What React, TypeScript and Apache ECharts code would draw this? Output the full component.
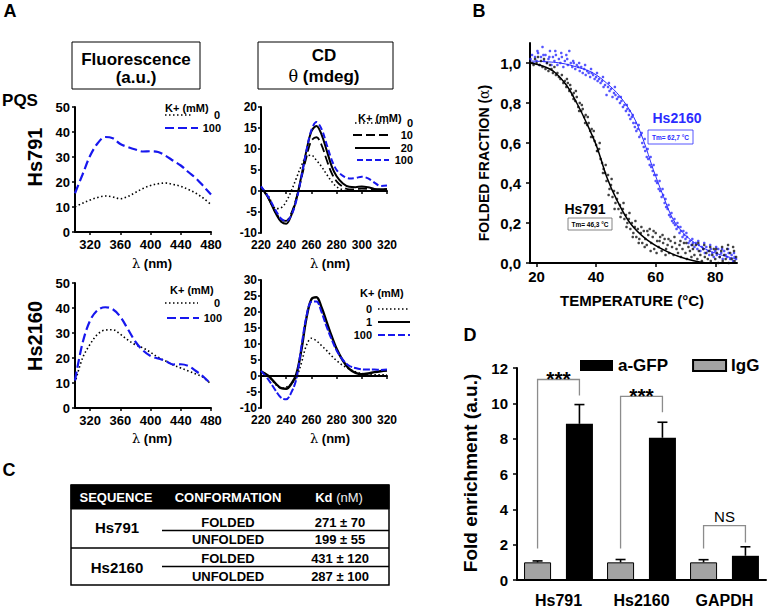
import React, { useEffect, useRef } from 'react';
import * as echarts from 'echarts';

const FONT = 'Arial, "Liberation Sans", Helvetica, sans-serif';
const BLUE_A = '#1717ee';
const BLUE_B = '#2b2bff';

// ---------- Panel A : fluorescence ----------
const fluorWavelength = [300, 310, 320, 330, 340, 350, 360, 370, 380, 390, 400, 410, 420, 430, 440, 450, 460, 470, 480];
const fluorTicks = [320, 360, 400, 440, 480];
const fluorHs791K0 = [10.1, 11.5, 12.8, 13.8, 14.4, 14.0, 13.3, 14.2, 15.8, 17.4, 18.6, 19.3, 19.6, 19.0, 18.3, 17.0, 15.5, 13.5, 11.0];
const fluorHs791K100 = [15.5, 23.0, 30.5, 35.5, 38.0, 37.5, 35.2, 34.0, 33.0, 32.2, 32.3, 32.0, 30.5, 28.5, 26.6, 24.0, 21.5, 18.3, 15.0];
const fluorHs2160K0 = [10.0, 20.0, 25.5, 29.5, 31.2, 31.3, 29.5, 27.2, 25.3, 24.0, 22.3, 20.3, 18.8, 17.2, 16.0, 14.8, 13.6, 12.2, 9.5];
const fluorHs2160K100 = [11.0, 26.0, 35.0, 39.2, 40.3, 39.5, 36.5, 31.5, 26.5, 23.0, 20.8, 19.8, 18.8, 17.4, 17.5, 16.8, 14.8, 12.5, 9.5];

// ---------- Panel A : circular dichroism ----------
const cdWavelength = [220, 226, 232, 236, 240, 244, 248, 252, 256, 260, 264, 268, 272, 276, 280, 285, 290, 295, 300, 305, 310, 315, 320];
const cdHs791K0 = [1.0, -1.3, -4.2, -4.0, -2.5, 0.0, 3.0, 6.0, 8.2, 8.5, 7.3, 5.8, 4.0, 2.3, 1.0, 0.3, 0.0, 0.0, 0.0, 0.0, 0.0, 0.2, 0.3];
const cdHs791K10 = [1.0, -1.8, -5.3, -6.8, -7.1, -5.3, -1.8, 3.0, 8.0, 12.0, 12.8, 11.0, 7.5, 4.3, 2.3, 1.0, 0.4, 0.4, 0.6, 0.5, 0.3, 0.3, 0.4];
const cdHs791K20 = [1.0, -1.8, -5.5, -7.3, -7.8, -5.8, -2.0, 3.5, 9.5, 14.2, 15.5, 13.5, 9.8, 6.0, 3.5, 1.8, 1.0, 0.9, 1.1, 0.9, 0.5, 0.4, 0.5];
const cdHs791K100 = [1.1, -1.5, -4.8, -6.6, -7.2, -5.8, -2.3, 3.2, 9.5, 14.5, 16.4, 14.8, 11.2, 7.5, 5.0, 3.6, 3.0, 3.1, 3.4, 3.0, 2.0, 1.2, 1.3];
const cdHs2160K0 = [1.5, 0.0, -2.8, -3.8, -3.5, -2.5, -0.5, 4.0, 9.5, 11.8, 11.0, 9.5, 8.0, 6.3, 4.8, 3.3, 2.2, 1.3, 0.8, 0.5, 0.4, 0.4, 0.4];
const cdHs2160K1 = [1.5, 0.0, -2.5, -3.8, -4.0, -2.5, 0.5, 8.0, 18.0, 24.0, 24.6, 21.5, 17.0, 12.5, 8.5, 4.8, 2.2, 1.0, 0.6, 0.8, 1.2, 1.5, 1.7];
const cdHs2160K100 = [1.6, -1.2, -4.8, -6.8, -7.3, -5.2, -1.0, 9.0, 18.5, 23.2, 23.3, 20.0, 15.5, 11.5, 8.0, 5.0, 3.2, 2.5, 2.1, 2.0, 2.0, 1.9, 2.0];

// ---------- Panel B : melting ----------
const meltTicks = [20, 40, 60, 80];
const fracTicks = [0, 0.2, 0.4, 0.6, 0.8, 1.0];
const hs791FitT = [18, 22, 26, 30, 33.5, 36.8, 40.2, 43.5, 46.9, 51.4, 57, 63.7, 70.4, 78, 87.3];
const hs791FitA = [1.0, 0.985, 0.955, 0.89, 0.8, 0.7, 0.583, 0.433, 0.317, 0.2, 0.117, 0.058, 0.02, 0.0, 0.0];
const hs2160FitT = [18, 27.9, 34.6, 39, 43.5, 48, 52.5, 55.8, 59.2, 62.6, 65.9, 70.4, 76, 81.6, 87.2];
const hs2160FitA = [1.01, 1.0, 0.975, 0.95, 0.9, 0.833, 0.733, 0.617, 0.467, 0.333, 0.217, 0.133, 0.075, 0.042, 0.02];
const hs791Points = [
  [18.5, 1.0], [19, 0.99], [19.5, 1.02], [20, 1.0], [20.5, 1.03], [21, 0.99], [21.5, 1.01], [22, 0.98], [22.5, 1.02], [23, 0.97],
  [23.5, 1.0], [24, 0.96], [24.5, 0.99], [25, 0.97], [25.5, 0.95], [26, 0.98], [26.5, 0.94], [27, 0.95], [27.5, 0.93], [28, 0.92],
  [28.5, 0.94], [29, 0.9], [29.5, 0.91], [30, 0.88], [30.5, 0.9], [31, 0.86], [31.5, 0.87], [32, 0.84], [32.5, 0.85], [33, 0.81],
  [33.5, 0.83], [34, 0.78], [34.5, 0.8], [35, 0.76], [35.5, 0.77], [36, 0.73], [36.5, 0.74], [37, 0.69], [37.5, 0.7], [38, 0.66],
  [38.5, 0.67], [39, 0.63], [39.5, 0.61], [40, 0.59], [40.5, 0.56], [41, 0.57], [41.5, 0.52], [42, 0.5], [42.5, 0.47], [43, 0.45],
  [43.5, 0.41], [44, 0.44], [44.5, 0.37], [45, 0.39], [45.5, 0.33], [46, 0.36], [46.5, 0.3], [47, 0.32], [47.5, 0.27], [48, 0.29],
  [48.5, 0.25], [49, 0.27], [49.5, 0.22], [50, 0.24], [50.5, 0.2], [51, 0.22], [51.5, 0.17], [52, 0.2], [52.5, 0.15], [53, 0.18],
  [53.5, 0.13], [54, 0.17], [54.5, 0.12], [55, 0.15], [55.5, 0.1], [56, 0.16], [56.5, 0.12], [57, 0.09], [57.5, 0.14], [58, 0.17],
  [58.5, 0.1], [59, 0.13], [59.5, 0.07], [60, 0.15], [60.5, 0.11], [61, 0.08], [61.5, 0.13], [62, 0.06], [62.5, 0.1], [63, 0.12],
  [63.5, 0.07], [64, 0.09], [64.5, 0.05], [65, 0.11], [65.5, 0.08], [66, 0.04], [66.5, 0.1], [67, 0.07], [67.5, 0.05], [68, 0.09],
  [68.5, 0.03], [69, 0.07], [69.5, 0.1], [70, 0.05], [70.5, 0.02], [71, 0.08], [71.5, 0.06], [72, 0.03], [72.5, 0.07], [73, 0.04],
  [73.5, 0.09], [74, 0.02], [74.5, 0.06], [75, 0.04], [75.5, 0.01], [76, 0.07], [76.5, 0.03], [77, 0.05], [77.5, 0.02], [78, 0.06],
  [78.5, 0.01], [79, 0.04], [79.5, 0.07], [80, 0.02], [80.5, 0.05], [81, 0.0], [81.5, 0.03], [82, 0.06], [82.5, 0.01], [83, 0.04],
  [83.5, 0.02], [84, 0.07], [84.5, 0.0], [85, 0.05], [85.5, 0.02], [86, 0.08], [86.5, 0.01], [87, 0.03],
  [30.2, 0.92], [31.3, 0.89], [32.4, 0.82], [33.2, 0.86], [34.3, 0.76], [35.2, 0.79], [36.3, 0.7], [37.2, 0.73], [38.3, 0.63], [39.2, 0.66],
  [40.3, 0.56], [41.2, 0.6], [42.3, 0.45], [43.2, 0.49], [44.2, 0.34], [45.2, 0.42], [46.2, 0.27], [47.2, 0.35], [48.2, 0.23], [49.2, 0.3],
  [50.2, 0.18], [51.2, 0.25], [52.3, 0.13], [53.2, 0.21], [54.3, 0.1], [55.2, 0.18], [56.3, 0.08], [57.2, 0.16], [58.3, 0.06], [59.3, 0.16],
  [60.3, 0.05], [61.3, 0.11], [62.3, 0.14], [63.3, 0.04], [64.3, 0.12], [66.3, 0.13], [68.3, 0.11], [70.3, 0.1], [72.3, 0.09], [74.3, 0.1],
  [76.3, 0.09], [78.3, 0.08], [80.3, 0.07], [82.3, 0.08], [84.3, 0.09], [86.3, 0.06],
];
const hs2160Points = [
  [18, 1.02], [18.5, 1.04], [19, 1.0], [19.5, 1.03], [20, 1.01], [20.5, 1.05], [21, 0.99], [21.5, 1.03], [22, 1.08], [22.5, 1.01],
  [23, 1.04], [23.5, 1.0], [24, 1.02], [24.5, 1.06], [25, 0.99], [25.5, 1.03], [26, 1.01], [26.5, 1.04], [27, 0.99], [27.5, 1.02],
  [28, 1.0], [28.5, 1.03], [29, 0.98], [29.5, 1.01], [30, 1.04], [30.5, 0.99], [31, 1.06], [31.5, 1.0], [32, 0.98], [32.5, 1.0],
  [33, 0.97], [33.5, 0.99], [34, 0.98], [34.5, 0.96], [35, 0.98], [35.5, 0.95], [36, 0.97], [36.5, 0.94], [37, 0.96], [37.5, 0.95],
  [38, 0.93], [38.5, 0.95], [39, 0.94], [39.5, 0.92], [40, 0.93], [40.5, 0.91], [41, 0.92], [41.5, 0.9], [42, 0.91], [42.5, 0.88],
  [43, 0.89], [43.5, 0.84], [44, 0.88], [44.5, 0.86], [45, 0.87], [45.5, 0.83], [46, 0.85], [46.5, 0.84], [47, 0.82], [47.5, 0.83],
  [48, 0.8], [48.5, 0.81], [49, 0.78], [49.5, 0.79], [50, 0.76], [50.5, 0.77], [51, 0.74], [51.5, 0.72], [52, 0.73], [52.5, 0.7],
  [53, 0.68], [53.5, 0.66], [54, 0.67], [54.5, 0.63], [55, 0.64], [55.5, 0.6], [56, 0.58], [56.5, 0.56], [57, 0.53], [57.5, 0.52],
  [58, 0.49], [58.5, 0.48], [59, 0.46], [59.5, 0.44], [60, 0.41], [60.5, 0.4], [61, 0.37], [61.5, 0.36], [62, 0.33], [62.5, 0.34],
  [63, 0.3], [63.5, 0.28], [64, 0.27], [64.5, 0.24], [65, 0.23], [65.5, 0.21], [66, 0.2], [66.5, 0.19], [67, 0.17], [67.5, 0.18],
  [68, 0.15], [68.5, 0.16], [69, 0.13], [69.5, 0.14], [70, 0.12], [70.5, 0.13], [71, 0.1], [71.5, 0.11], [72, 0.09], [72.5, 0.1],
  [73, 0.08], [73.5, 0.1], [74, 0.07], [74.5, 0.09], [75, 0.06], [75.5, 0.08], [76, 0.07], [76.5, 0.05], [77, 0.08], [77.5, 0.06],
  [78, 0.04], [78.5, 0.07], [79, 0.05], [79.5, 0.03], [80, 0.06], [80.5, 0.04], [81, 0.07], [81.5, 0.03], [82, 0.05], [82.5, 0.02],
  [83, 0.06], [83.5, 0.04], [84, 0.03], [84.5, 0.05], [85, 0.02], [85.5, 0.04], [86, 0.01], [86.5, 0.03], [87, 0.02],
  [20.3, 1.06], [22.3, 1.04], [24.3, 1.03], [26.3, 1.06], [28.3, 1.05], [30.3, 1.02], [32.3, 1.01], [34.3, 1.0], [36.3, 0.99], [38.3, 0.97],
  [40.3, 0.95], [42.3, 0.93], [44.3, 0.9], [46.3, 0.88], [48.3, 0.83], [50.3, 0.79], [51.3, 0.76], [52.3, 0.74], [53.3, 0.7], [54.3, 0.69],
  [55.3, 0.65], [56.3, 0.62], [57.3, 0.57], [58.3, 0.53], [59.3, 0.49], [60.3, 0.44], [61.3, 0.41], [62.3, 0.37], [63.3, 0.32], [64.3, 0.29],
  [65.3, 0.25], [66.3, 0.22], [67.3, 0.2], [68.3, 0.18], [69.3, 0.16], [70.3, 0.15], [72.3, 0.12], [74.3, 0.11], [76.3, 0.1], [78.3, 0.09],
  [80.3, 0.08], [82.3, 0.07], [84.3, 0.07], [86.3, 0.05],
];

// ---------- Panel C : table ----------
const tableSequences = ['Hs791', 'Hs2160'];
const tableConformations = ['FOLDED', 'UNFOLDED', 'FOLDED', 'UNFOLDED'];
const tableKd = ['271 ± 70', '199 ± 55', '431 ± 120', '287 ± 100'];

// ---------- Panel D : ChIP ----------
const dCategories = ['Hs791', 'Hs2160', 'GAPDH'];
const igG = [1.0, 1.0, 1.0];
const igGErr = [0.08, 0.16, 0.15];
const aGFP = [8.84, 8.05, 1.37];
const aGFPErr = [1.09, 0.88, 0.51];
const bracketLeft = [1.78, 1.78, 1.78];
const bracketRight = [10.45, 9.49, 2.12];
const bracketTop = [11.35, 10.39, 3.08];
const bracketLabels = ['***', '***', 'NS'];

const zip = (xs: number[], ys: number[]) => xs.map((x, i) => [x, ys[i]]);

const axisLineStyle = { show: true, lineStyle: { color: '#000', width: 2 } };
const lbl = (size: number, margin: number, extra: any = {}) => ({
  color: '#000', fontWeight: 'bold', fontSize: size, fontFamily: FONT, margin, ...extra,
});

function valueAxis(grid: number, min: number, max: number, interval: number | null, labelSize: number, margin: number, extra: any = {}) {
  const ax: any = {
    type: 'value', gridIndex: grid, min, max,
    axisLine: axisLineStyle,
    axisTick: { show: true, length: 3, lineStyle: { color: '#000', width: 1.5 }, ...(extra.tick || {}) },
    axisLabel: lbl(labelSize, margin, extra.label || {}),
    splitLine: { show: false },
  };
  if (interval !== null) ax.interval = interval;
  return ax;
}

const lineS = (xi: number, data: number[][], color: string, width: number, type: any, extra: any = {}) => ({
  type: 'line', xAxisIndex: xi, yAxisIndex: xi, data, symbol: 'none', smooth: 0.35,
  lineStyle: { color, width, type, cap: 'butt' }, z: extra.z ?? 3, ...extra,
});

const zeroLine = {
  silent: true, symbol: 'none', label: { show: false },
  lineStyle: { color: '#000', width: 1.5, type: 'solid' }, data: [{ yAxis: 0 }],
};

function txt(x: number, y: number, text: string, size: number, o: any = {}) {
  return {
    type: 'text', x, y, rotation: o.rotation ?? 0, z: 10,
    style: {
      text, fontSize: size, fontWeight: o.weight ?? 'bold', fontFamily: FONT,
      fill: o.fill ?? '#000', textAlign: o.align ?? 'center', textVerticalAlign: 'middle',
      rich: o.rich,
    },
  };
}
function hline(x1: number, x2: number, y: number, color: string, width: number, dash: any = null) {
  return { type: 'line', z: 10, shape: { x1, y1: y, x2, y2: y }, style: { stroke: color, lineWidth: width, lineDash: dash } };
}

function barOffset(api: any) {
  const bw = api.size([1, 0])[0];
  const barW = (bw * 0.83) / 2.55;
  return (barW * 1.55) / 2;
}

export default function App() {
  const ref = useRef<HTMLDivElement>(null);
  useEffect(() => {
    if (!ref.current) return;
    const chart = echarts.init(ref.current, null, { renderer: 'svg' });
    const greek = { fontWeight: 'normal', fontFamily: '"DejaVu Serif", serif' };

    const graphic: any[] = [
      // panel letters
      txt(10, 11, 'A', 18), txt(479, 11, 'B', 18), txt(9, 470, 'C', 18), txt(470, 335, 'D', 18),
      // panel A headers
      { type: 'rect', z: 10, shape: { x: 72, y: 42, width: 128, height: 47 }, style: { fill: 'none', stroke: '#000', lineWidth: 1 } },
      txt(136, 59, 'Fluorescence', 17), txt(136, 77, '(a.u.)', 17),
      { type: 'rect', z: 10, shape: { x: 258, y: 42, width: 135, height: 47 }, style: { fill: 'none', stroke: '#000', lineWidth: 1 } },
      txt(324, 55, 'CD', 17),
      txt(324, 76, '{g|θ} (mdeg)', 17, { rich: { g: { ...greek, fontSize: 16 } } }),
      txt(20, 100, 'PQS', 17),
      txt(35, 157, 'Hs791', 20, { rotation: Math.PI / 2 }),
      txt(35, 336, 'Hs2160', 20, { rotation: Math.PI / 2 }),
      // axis titles panel A
      txt(152, 263, '{g|λ} (nm)', 13, { rich: { g: { ...greek, fontSize: 13 } } }),
      txt(330, 263, '{g|λ} (nm)', 13, { rich: { g: { ...greek, fontSize: 13 } } }),
      txt(152, 438, '{g|λ} (nm)', 13, { rich: { g: { ...greek, fontSize: 13 } } }),
      txt(330, 438, '{g|λ} (nm)', 13, { rich: { g: { ...greek, fontSize: 13 } } }),
      // legend top-left
      txt(165, 108, 'K+ (mM)', 11, { align: 'left' }),
      hline(165, 193, 115, '#000', 1.6, [1.5, 2.5]), txt(220, 115, '0', 11, { align: 'right' }),
      hline(165, 198, 128, BLUE_A, 2.2, [9, 4]), txt(221, 128, '100', 11, { align: 'right' }),
      // legend bottom-left
      txt(170, 290, 'K+ (mM)', 11, { align: 'left' }),
      hline(165, 198, 303, '#000', 1.6, [1.5, 2.5]), txt(220, 303, '0', 11, { align: 'right' }),
      hline(167, 199, 318, BLUE_A, 2.2, [9, 4]), txt(222, 318, '100', 11, { align: 'right' }),
      // legend top-right
      txt(358, 118, 'K+ (mM)', 11, { align: 'left' }),
      hline(355, 390, 123, '#000', 1.6, [1.5, 2.5]), txt(413, 123, '0', 11, { align: 'right' }),
      hline(353, 392, 135, '#000', 2, [9, 4]), txt(413, 135, '10', 11, { align: 'right' }),
      hline(355, 390, 148, '#000', 2), txt(413, 148, '20', 11, { align: 'right' }),
      hline(357, 389, 160, BLUE_A, 2, [6, 3]), txt(413, 160, '100', 11, { align: 'right' }),
      // legend bottom-right
      txt(360, 293, 'K+ (mM)', 11, { align: 'left' }),
      txt(372, 309, '0', 11, { align: 'right' }), hline(378, 410, 309, '#000', 1.6, [1.5, 2.5]),
      txt(372, 322, '1', 11, { align: 'right' }), hline(378, 410, 322, '#000', 2),
      txt(372, 335, '100', 11, { align: 'right' }), hline(378, 410, 335, BLUE_A, 2, [7, 3]),
      // panel B annotations
      txt(632, 300, 'TEMPERATURE (°C)', 15),
      txt(484, 163, 'FOLDED FRACTION ({g|α})', 14, { rotation: Math.PI / 2, rich: { g: { ...greek, fontSize: 14 } } }),
      txt(677, 118, 'Hs2160', 14, { fill: BLUE_B }),
      { type: 'rect', z: 10, shape: { x: 648, y: 130, width: 45, height: 14 }, style: { fill: '#fff', stroke: BLUE_B, lineWidth: 0.8 } },
      txt(670.5, 137, 'Tm= 62,7 °C', 6.5, { fill: BLUE_B }),
      txt(585, 209, 'Hs791', 14),
      { type: 'rect', z: 10, shape: { x: 568, y: 218, width: 44, height: 12 }, style: { fill: '#fff', stroke: '#666', lineWidth: 0.8 } },
      txt(590, 224, 'Tm= 46,3 °C', 6.5),
      // panel D title
      txt(470, 473, 'Fold enrichment (a.u.)', 19, { rotation: Math.PI / 2 }),
    ];

    // Table (panel C)
    const tl = 71, tr = 389;
    graphic.push(
      { type: 'rect', z: 9, shape: { x: tl, y: 485, width: tr - tl, height: 24 }, style: { fill: '#000', stroke: '#000', lineWidth: 1 } },
      { type: 'rect', z: 10, shape: { x: tl, y: 485, width: tr - tl, height: 100 }, style: { fill: 'none', stroke: '#000', lineWidth: 1.5 } },
      hline(tl, tr, 548, '#000', 1.5),
      hline(162, tr, 530.5, '#000', 1.5),
      hline(162, tr, 566.5, '#000', 1.5),
      txt(116, 497, 'SEQUENCE', 13, { fill: '#fff' }),
      txt(228, 497, 'CONFORMATION', 13, { fill: '#fff' }),
      txt(339, 497, 'Kd {n|(nM)}', 13, { fill: '#fff', rich: { n: { fontWeight: 'normal', fontSize: 13, fill: '#eee', fontFamily: FONT } } }),
    );
    const seqY = [527, 567];
    tableSequences.forEach((s, i) => graphic.push(txt(117, seqY[i], s, 15)));
    const rowY = [522.5, 539, 558.5, 576];
    tableConformations.forEach((c, i) => graphic.push(txt(228, rowY[i], c, 13)));
    tableKd.forEach((k, i) => graphic.push(txt(340, rowY[i], k, 13)));

    const option: any = {
      animation: false,
      textStyle: { fontFamily: FONT },
      grid: [
        { left: 75, top: 107, width: 136, height: 125 },
        { left: 261, top: 107, width: 126, height: 126 },
        { left: 75, top: 283, width: 136, height: 125 },
        { left: 261, top: 280, width: 126, height: 128 },
        { left: 530, top: 43, width: 207, height: 220 },
        { left: 517, top: 368, width: 249, height: 213.7 },
      ],
      xAxis: [
        valueAxis(0, 300, 480, null, 13, 6, { label: { customValues: fluorTicks }, tick: { customValues: fluorTicks } }),
        valueAxis(1, 220, 320, 20, 12, 6),
        valueAxis(2, 300, 480, null, 13, 6, { label: { customValues: fluorTicks }, tick: { customValues: fluorTicks } }),
        valueAxis(3, 220, 320, 20, 12, 6),
        valueAxis(4, 17.8, 87.3, null, 15, 6, { label: { customValues: meltTicks }, tick: { customValues: meltTicks, length: 4 } }),
        {
          type: 'category', gridIndex: 5, data: dCategories,
          axisLine: axisLineStyle, axisTick: { show: false },
          axisLabel: lbl(16, 12),
        },
      ],
      yAxis: [
        valueAxis(0, 0, 50, 10, 13, 5),
        valueAxis(1, -10, 20, 5, 12, 4),
        valueAxis(2, 0, 50, 10, 13, 5),
        valueAxis(3, -10, 30, 5, 12, 4),
        valueAxis(4, 0, 1.1, null, 15, 9, {
          label: { customValues: fracTicks, formatter: (v: number) => v.toFixed(1).replace('.', ',') },
          tick: { customValues: fracTicks, length: 4 },
        }),
        valueAxis(5, 0, 12, 2, 15, 9, { tick: { length: 4 } }),
      ],
      legend: {
        data: ['a-GFP', 'IgG'], left: 575, top: 352, itemWidth: 33, itemHeight: 11, itemGap: 24,
        icon: 'rect', textStyle: { fontWeight: 'bold', fontSize: 17, color: '#000', fontFamily: FONT },
        selectedMode: false,
      },
      graphic,
      series: [
        // Fluorescence Hs791
        lineS(0, zip(fluorWavelength, fluorHs791K0), '#000', 1.6, [1.5, 2.5]),
        lineS(0, zip(fluorWavelength, fluorHs791K100), BLUE_A, 2.2, [9, 4]),
        // CD Hs791
        { ...lineS(1, zip(cdWavelength, cdHs791K0), '#000', 1.6, [1.5, 2.5]), markLine: zeroLine },
        lineS(1, zip(cdWavelength, cdHs791K10), '#000', 1.8, [9, 4]),
        lineS(1, zip(cdWavelength, cdHs791K20), '#000', 2, 'solid'),
        lineS(1, zip(cdWavelength, cdHs791K100), BLUE_A, 2, [6, 3]),
        // Fluorescence Hs2160
        lineS(2, zip(fluorWavelength, fluorHs2160K0), '#000', 1.6, [1.5, 2.5]),
        lineS(2, zip(fluorWavelength, fluorHs2160K100), BLUE_A, 2.2, [9, 4]),
        // CD Hs2160
        { ...lineS(3, zip(cdWavelength, cdHs2160K0), '#000', 1.6, [1.5, 2.5]), markLine: zeroLine },
        lineS(3, zip(cdWavelength, cdHs2160K1), '#000', 2.4, 'solid'),
        lineS(3, zip(cdWavelength, cdHs2160K100), BLUE_A, 2, [7, 2]),
        // Panel B
        lineS(4, zip(hs2160FitT, hs2160FitA), BLUE_B, 1, 'solid', { z: 1 }),
        { type: 'scatter', xAxisIndex: 4, yAxisIndex: 4, data: hs2160Points, symbolSize: 2.6, itemStyle: { color: BLUE_B }, z: 2 },
        { type: 'scatter', xAxisIndex: 4, yAxisIndex: 4, data: hs791Points, symbolSize: 2.6, itemStyle: { color: '#111' }, z: 2 },
        lineS(4, zip(hs791FitT, hs791FitA), '#000', 1.5, 'solid', { z: 4 }),
        // Panel D
        {
          name: 'IgG', type: 'bar', xAxisIndex: 5, yAxisIndex: 5, data: igG, barGap: '55%', barCategoryGap: '17%',
          itemStyle: { color: '#a3a3a3', borderColor: '#000', borderWidth: 1 },
        },
        {
          name: 'a-GFP', type: 'bar', xAxisIndex: 5, yAxisIndex: 5, data: aGFP, barGap: '55%', barCategoryGap: '17%',
          itemStyle: { color: '#000' },
        },
        ...[{ vals: igG, errs: igGErr, sign: -1 }, { vals: aGFP, errs: aGFPErr, sign: 1 }].map((e) => ({
          type: 'custom', xAxisIndex: 5, yAxisIndex: 5, z: 5,
          data: e.vals.map((v, i) => [i, v, e.errs[i]]),
          encode: { x: 0, y: 1 },
          renderItem: (params: any, api: any) => {
            const idx = api.value(0), v = api.value(1), er = api.value(2);
            const b = api.coord([idx, v]);
            const t = api.coord([idx, v + er]);
            const x = b[0] + e.sign * barOffset(api);
            return {
              type: 'group', children: [
                { type: 'line', shape: { x1: x, y1: b[1], x2: x, y2: t[1] }, style: { stroke: '#000', lineWidth: 1.6 } },
                { type: 'line', shape: { x1: x - 5, y1: t[1], x2: x + 5, y2: t[1] }, style: { stroke: '#000', lineWidth: 1.6 } },
              ],
            };
          },
        })),
        {
          type: 'custom', xAxisIndex: 5, yAxisIndex: 5, z: 6,
          data: dCategories.map((_, i) => [i, bracketLeft[i], bracketRight[i], bracketTop[i]]),
          encode: { x: 0, y: 3 },
          renderItem: (params: any, api: any) => {
            const idx = api.value(0);
            const off = barOffset(api);
            const c = api.coord([idx, api.value(3)]);
            const yl = api.coord([idx, api.value(1)])[1];
            const yr = api.coord([idx, api.value(2)])[1];
            const xl = c[0] - off, xr = c[0] + off, yt = c[1];
            const label = bracketLabels[params.dataIndex];
            const isNS = label === 'NS';
            return {
              type: 'group', children: [
                { type: 'polyline', shape: { points: [[xl, yl], [xl, yt], [xr, yt], [xr, yr]] }, style: { stroke: '#8c8c8c', lineWidth: 1.3, fill: 'none' } },
                {
                  type: 'text', x: (xl + xr) / 2, y: isNS ? yt - 9 : yt - 1,
                  style: {
                    text: label, textAlign: 'center', textVerticalAlign: 'middle', fill: '#000',
                    fontSize: isNS ? 15 : 21, fontWeight: isNS ? 'normal' : 'bold', fontFamily: FONT,
                  },
                },
              ],
            };
          },
        },
      ],
    };
    chart.setOption(option);
    return () => chart.dispose();
  }, []);
  return <div ref={ref} style={{ position: 'absolute', left: 0, top: 0, width: 768, height: 608 }} />;
}
